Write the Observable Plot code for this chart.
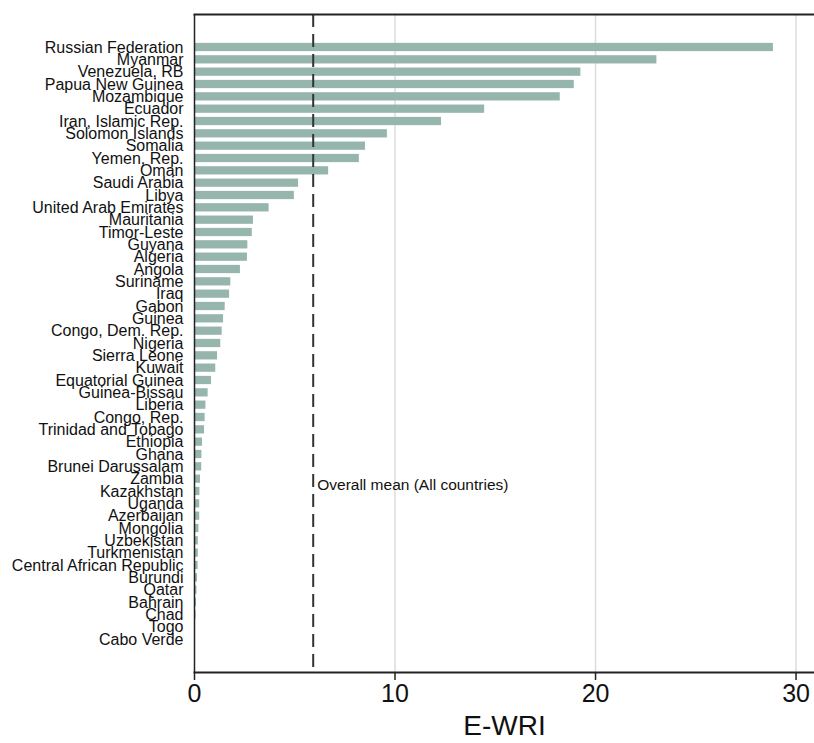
<!DOCTYPE html>
<html>
<head>
<meta charset="utf-8">
<script src="https://cdn.jsdelivr.net/npm/d3@7"></script>
<script src="https://cdn.jsdelivr.net/npm/@observablehq/plot@0.6"></script>
<style>
  html, body { margin: 0; padding: 0; background: #fff; }
  #chart { width: 814px; height: 743px; overflow: hidden; }
</style>
</head>
<body>
<div id="chart"></div>
<script>
const countries = [
  "Russian Federation", "Myanmar", "Venezuela, RB", "Papua New Guinea", "Mozambique",
  "Ecuador", "Iran, Islamic Rep.", "Solomon Islands", "Somalia", "Yemen, Rep.",
  "Oman", "Saudi Arabia", "Libya", "United Arab Emirates", "Mauritania",
  "Timor-Leste", "Guyana", "Algeria", "Angola", "Suriname",
  "Iraq", "Gabon", "Guinea", "Congo, Dem. Rep.", "Nigeria",
  "Sierra Leone", "Kuwait", "Equatorial Guinea", "Guinea-Bissau", "Liberia",
  "Congo, Rep.", "Trinidad and Tobago", "Ethiopia", "Ghana", "Brunei Darussalam",
  "Zambia", "Kazakhstan", "Uganda", "Azerbaijan", "Mongolia",
  "Uzbekistan", "Turkmenistan", "Central African Republic", "Burundi", "Qatar",
  "Bahrain", "Chad", "Togo", "Cabo Verde"
];
const ewri = [
  28.87, 23.06, 19.27, 18.94, 18.24,
  14.47, 12.32, 9.62, 8.53, 8.22,
  6.69, 5.19, 4.98, 3.72, 2.94,
  2.88, 2.66, 2.64, 2.29, 1.81,
  1.75, 1.53, 1.45, 1.38, 1.31,
  1.15, 1.06, 0.85, 0.68, 0.57,
  0.53, 0.50, 0.40, 0.37, 0.36,
  0.30, 0.27, 0.26, 0.26, 0.22,
  0.19, 0.19, 0.18, 0.15, 0.12,
  0.10, 0.08, 0.02, 0.01
];
const overallMean = 5.92;
const xTicks = [0, 10, 20, 30];
const gridTicks = [10, 20, 30];
const meanLabel = "Overall mean (All countries)";
const axisTitle = "E-WRI";

const data = countries.map((c, i) => ({country: c, value: ewri[i]}));
const font = "'Liberation Sans', Arial, sans-serif";

const chart = Plot.plot({
  width: 814,
  height: 743,
  marginLeft: 194,
  marginRight: 0,
  marginTop: 14,
  marginBottom: 71,
  style: {fontFamily: font, background: "#fff", color: "#111", overflow: "hidden"},
  x: {domain: [0, 30.92]},
  y: {domain: countries, padding: 0.33, insetTop: 24.8, insetBottom: 24.8, round: false},
  marks: [
    Plot.ruleX(gridTicks, {stroke: "#dcdcdc", strokeWidth: 1.5}),
    Plot.barX(data, {x: "value", y: "country", fill: "#96b5ad"}),
    Plot.ruleX([overallMean], {stroke: "#333", strokeWidth: 2, strokeDasharray: "13,7"}),
    Plot.text([meanLabel], {x: overallMean, y: ["Zambia"], dy: 6, dx: 4, textAnchor: "start", fontSize: 15.5, fill: "#111"}),
    Plot.frame({anchor: "top", stroke: "#222", strokeWidth: 2}),
    Plot.frame({anchor: "bottom", stroke: "#222", strokeWidth: 2}),
    Plot.ruleX([0], {stroke: "#222", strokeWidth: 1.5}),
    Plot.axisY({tickSize: 0, tickPadding: 11, fontSize: 16, label: null}),
    Plot.axisX({ticks: xTicks, tickSize: 8, tickPadding: 4, fontSize: 25, label: null, stroke: "#222", strokeWidth: 1.5}),
    Plot.text([axisTitle], {frameAnchor: "bottom", dy: 54, fontSize: 28, lineAnchor: "middle", fill: "#111"})
  ]
});
document.getElementById("chart").appendChild(chart);
</script>
</body>
</html>
